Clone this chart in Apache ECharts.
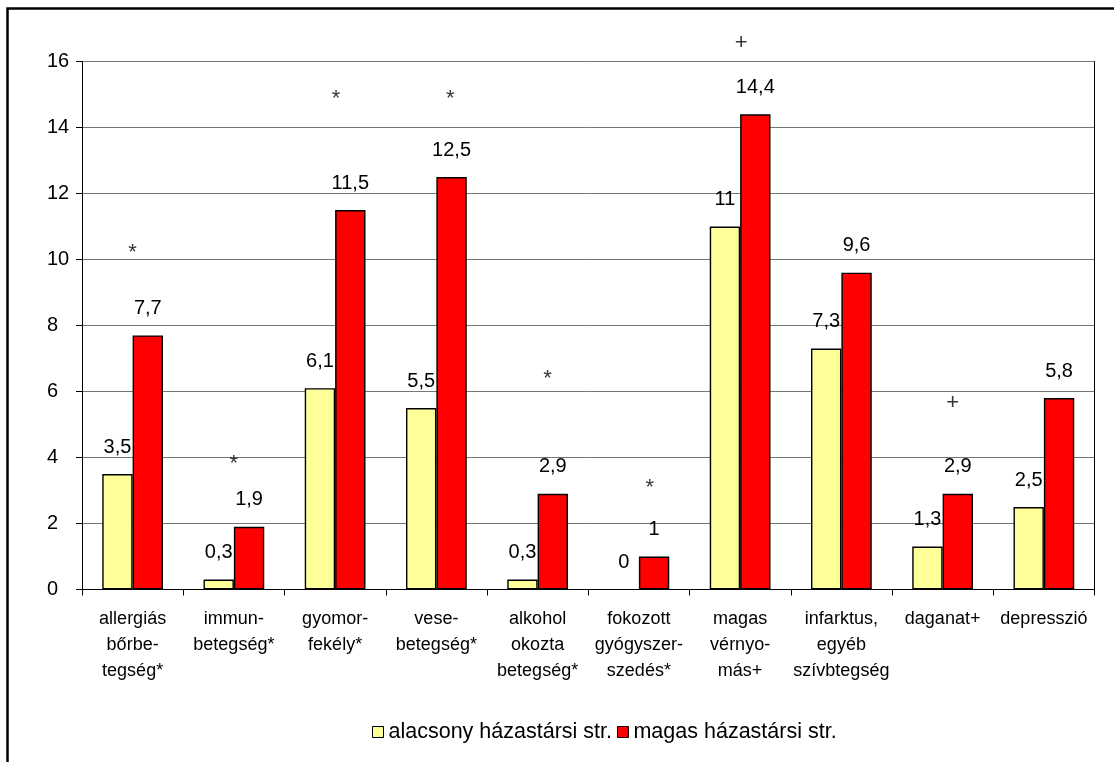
<!DOCTYPE html>
<html>
<head>
<meta charset="utf-8">
<script src="https://cdn.jsdelivr.net/npm/echarts@6/dist/echarts.min.js"></script>
<style>
  html, body { margin: 0; padding: 0; background: #fff; }
  #chart { width: 1114px; height: 762px; }
</style>
</head>
<body>
<div id="chart"></div>
<script>
const categories = [
  "allergiás\nbőrbe-\ntegség*",
  "immun-\nbetegség*",
  "gyomor-\nfekély*",
  "vese-\nbetegség*",
  "alkohol\nokozta\nbetegség*",
  "fokozott\ngyógyszer-\nszedés*",
  "magas\nvérnyo-\nmás+",
  "infarktus,\negyéb\nszívbtegség",
  "daganat+",
  "depresszió",
];
const lowStress = [3.5, 0.3, 6.1, 5.5, 0.3, 0, 11, 7.3, 1.3, 2.5];
const highStress = [7.7, 1.9, 11.5, 12.5, 2.9, 1, 14.4, 9.6, 2.9, 5.8];
const seriesNames = ["alacsony házastársi str.", "magas házastársi str."];
const yTicks = { min: 0, max: 16, interval: 2 };

// significance marks drawn above each group, and the height they sit at
const markerText = ["*", "*", "*", "*", "*", "*", "+", "", "+", ""];
const markerLevel = [10.2, 3.82, 14.88, 14.88, 6.38, 3.09, 16.57, null, 5.64, null];
// horizontal nudge of each mark in px (layout only)
const markerShift = [0, 0, 1, 14, 10, 11, 1, 0, 10, 0];

const FONT = "'Liberation Sans', Arial, sans-serif";
const chart = echarts.init(document.getElementById("chart"), null, { renderer: "canvas" });

function fmt(v) {
  return String(v).replace(".", ",");
}

function barSeries(name, data, color) {
  return {
    name,
    type: "bar",
    // a zero bar has no visible outline in the original
    data: data.map((v) => (v === 0 ? { value: v, itemStyle: { borderWidth: 0 } } : v)),
    barGap: "0%",
    barCategoryGap: "40%",
    itemStyle: { color, borderColor: "#000", borderWidth: 1.4 },
    label: {
      show: true,
      position: "top",
      distance: 17,
      color: "#000",
      fontFamily: FONT,
      fontSize: 20,
      formatter: (p) => fmt(p.value),
    },
    emphasis: { disabled: true },
  };
}

const markers = [];
markerText.forEach((t, i) => {
  if (!t) return;
  markers.push({
    value: [i, markerLevel[i]],
    label: { formatter: t, offset: [markerShift[i], 0] },
  });
});

chart.setOption({
  animation: false,
  textStyle: { fontFamily: FONT },
  graphic: [{
    type: "rect",
    shape: { x: 7.5, y: 8.5, width: 1300, height: 900 },
    style: { fill: "none", stroke: "#000", lineWidth: 2.5 },
    silent: true,
  }],
  grid: { left: 82, right: 19.5, top: 61.5, bottom: 172.5 },
  legend: {
    data: seriesNames,
    left: 367,
    top: 716,
    itemWidth: 11,
    itemHeight: 11,
    itemGap: 5,
    icon: "rect",
    itemStyle: { borderColor: "#000", borderWidth: 1 },
    textStyle: { color: "#000", fontFamily: FONT, fontSize: 21.5 },
    selectedMode: false,
  },
  xAxis: {
    type: "category",
    data: categories,
    axisLine: { lineStyle: { color: "#000", width: 1 } },
    axisTick: { show: true, length: 6, lineStyle: { color: "#000" } },
    axisLabel: {
      interval: 0,
      color: "#000",
      fontFamily: FONT,
      fontSize: 18,
      lineHeight: 26,
      margin: 17,
    },
  },
  yAxis: [
    {
      type: "value",
      min: yTicks.min,
      max: yTicks.max,
      interval: yTicks.interval,
      axisLine: { show: true, lineStyle: { color: "#000", width: 1 } },
      axisTick: { show: true, length: 6, lineStyle: { color: "#000" } },
      axisLabel: { color: "#000", fontFamily: FONT, fontSize: 20, align: "left", margin: 35 },
      splitLine: { lineStyle: { color: "#767676", width: 1 } },
    },
    {
      type: "value",
      position: "right",
      min: yTicks.min,
      max: yTicks.max,
      interval: yTicks.interval,
      axisLine: { show: true, lineStyle: { color: "#000", width: 1 } },
      axisTick: { show: false },
      axisLabel: { show: false },
      splitLine: { show: false },
    },
  ],
  series: [
    barSeries(seriesNames[0], lowStress, "#FFFF99"),
    barSeries(seriesNames[1], highStress, "#FF0000"),
    {
      name: "marks",
      type: "scatter",
      data: markers,
      clip: false,
      symbolSize: 1,
      itemStyle: { color: "rgba(0,0,0,0)" },
      label: {
        show: true,
        position: "inside",
        color: "#000",
        fontFamily: FONT,
        fontSize: 22,
      },
      emphasis: { disabled: true },
      silent: true,
    },
  ],
});
</script>
</body>
</html>
